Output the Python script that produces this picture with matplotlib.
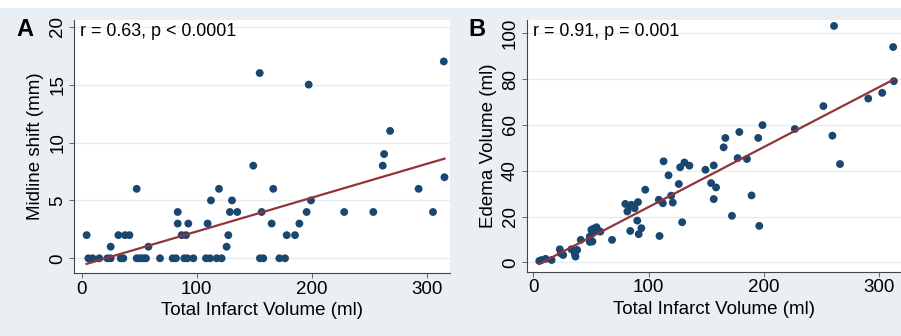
import numpy as np
import matplotlib
matplotlib.use("Agg")
import matplotlib.pyplot as plt
from matplotlib.patches import Rectangle

plt.rcParams['font.family'] = ['Liberation Sans', 'DejaVu Sans']

# Panel A: Total infarct volume (ml) vs midline shift (mm)
a_x = [5.8, 9.5, 15.3, 22.3, 25.2, 33.9, 36.2, 47.8, 50.1, 52.1, 54.2, 55.9, 68.1, 79.1, 82.0,
       89.2, 91.9, 97.1, 108.1, 111.6, 117.4, 121.7, 155.0, 157.9, 171.9, 176.8,
       25.2, 58.0, 126.0,
       4.3, 31.9, 37.7, 41.5, 86.9, 90.7, 127.5, 178.3, 185.5,
       83.5, 92.7, 109.5, 165.2, 189.3,
       83.5, 128.9, 135.3, 156.5, 195.6, 228.3, 253.6, 305.5,
       112.4, 130.7, 199.4,
       47.8, 119.4, 166.6, 293.0,
       315.5, 149.2, 261.8, 263.0, 268.2, 197.4, 154.8, 314.9]
a_y = [0, 0, 0, 0, 0, 0, 0, 0, 0, 0, 0, 0, 0, 0, 0,
       0, 0, 0, 0, 0, 0, 0, 0, 0, 0, 0,
       1, 1, 1,
       2, 2, 2, 2, 2, 2, 2, 2, 2,
       3, 3, 3, 3, 3,
       4, 4, 4, 4, 4, 4, 4, 4,
       5, 5, 5,
       6, 6, 6, 6,
       7, 8, 8, 9, 11, 15, 16, 17]

# Panel B: Total infarct volume (ml) vs edema volume (ml)
b_x = [5.2, 7.2, 10.7, 15.9, 23.0, 23.9, 25.9, 33.1, 36.0, 36.6, 38.0, 41.2, 49.0, 51.3, 50.4,
       52.4, 54.8, 56.2, 58.2, 49.0, 51.3, 68.3, 79.8, 81.6, 83.6, 85.0, 87.9, 90.8, 84.1,
       90.2, 91.4, 93.7, 97.1, 109.5, 108.9, 112.4, 113.0, 117.3, 119.6, 121.0, 126.2, 127.4,
       131.1, 135.4, 129.1, 149.3, 154.2, 156.5, 156.5, 158.5, 165.1, 166.6, 172.3, 177.2,
       178.7, 185.3, 189.3, 195.1, 196.0, 198.8, 226.8, 251.6, 259.4, 260.8, 266.0, 290.5,
       302.6, 312.1, 312.7]
b_y = [0.6, 1.0, 1.5, 1.0, 5.7, 3.9, 3.2, 5.7, 3.6, 2.5, 5.4, 9.8, 8.9, 9.1, 14.2,
       14.7, 15.3, 13.9, 13.4, 11.2, 12.7, 9.8, 25.5, 22.2, 24.4, 25.1, 23.6, 26.3, 13.7,
       18.2, 12.3, 14.9, 31.7, 11.5, 27.3, 25.8, 44.1, 38.0, 29.1, 26.1, 34.2, 41.5,
       43.6, 42.2, 17.5, 40.4, 34.6, 42.3, 27.6, 32.7, 50.2, 54.3, 20.3, 45.5,
       56.9, 45.1, 29.2, 54.3, 15.9, 59.9, 58.2, 68.2, 55.3, 103.2, 42.9, 71.5,
       74.0, 94.0, 79.1]

x_ticks = [0, 100, 200, 300]
a_yticks = [0, 5, 10, 15, 20]
b_yticks = [0, 20, 40, 60, 80, 100]
x_label = "Total Infarct Volume (ml)"
a_ylabel = "Midline shift (mm)"
b_ylabel = "Edema Volume (ml)"
a_note = "r = 0.63, p < 0.0001"
b_note = "r = 0.91, p = 0.001"

W, H = 901, 336
BG = "#e9eff2"
DOT = "#1a476f"
FIT = "#90353b"
GRID = "#e4eaee"

fig = plt.figure(figsize=(W / 100, H / 100), dpi=100, facecolor=BG)
fig.patches.append(Rectangle((0, 1 - 8 / H), 1, 8 / H, transform=fig.transFigure,
                             facecolor="white", edgecolor="none", zorder=0))


def fr(l, t, r, b):
    return [l / W, 1 - b / H, (r - l) / W, (b - t) / H]


def style(ax, xs, ys, xlim, ylim, yticks, ylabel, note, letter, lx):
    ax.set_facecolor("white")
    ax.scatter(xs, ys, s=32, color=DOT, edgecolors="none", zorder=3)
    k, c = np.polyfit(xs, ys, 1)
    xx = np.array([min(xs), max(xs)])
    ax.plot(xx, k * xx + c, color=FIT, lw=1.6, zorder=4)
    ax.set_xlim(*xlim)
    ax.set_ylim(*ylim)
    ax.set_xticks(x_ticks)
    ax.set_yticks(yticks)
    ax.set_yticklabels([str(v) for v in yticks], rotation=90, va="center")
    for s in ["top", "right"]:
        ax.spines[s].set_visible(False)
    for s in ["left", "bottom"]:
        ax.spines[s].set_color("#444444")
        ax.spines[s].set_linewidth(0.8)
    ax.tick_params(axis="both", direction="out", length=3.5, width=0.7, color="#666666",
                   labelsize=13.5, labelcolor="black", pad=2)
    ax.grid(axis="y", color=GRID, lw=0.9)
    ax.set_axisbelow(True)
    ax.set_xlabel(x_label, fontsize=13.5, labelpad=3)
    ax.set_ylabel(ylabel, fontsize=13.5, labelpad=4)
    ax.text(0.016, 0.954, note, transform=ax.transAxes, fontsize=12.9, va="center", ha="left")
    fig.text(lx / W, 1 - 29 / H, letter, fontsize=17, fontweight="bold", ha="center", va="center")


axA = fig.add_axes(fr(74, 20, 450, 273))
style(axA, a_x, a_y, (-6.7, 320.3), (-1.27, 20.58), a_yticks, a_ylabel, a_note, "A", 25)

axB = fig.add_axes(fr(526.7, 20, 901, 271.7))
style(axB, b_x, b_y, (-5.7, 318.9), (-4.1, 105.8), b_yticks, b_ylabel, b_note, "B", 477)

fig.savefig("out.png", dpi=100, facecolor=BG)
